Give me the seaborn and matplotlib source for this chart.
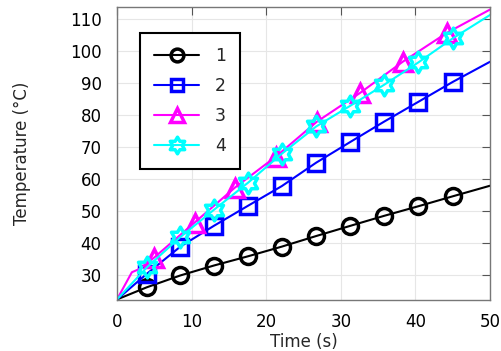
import numpy as np
import matplotlib
matplotlib.use("Agg")
import matplotlib.pyplot as plt
import seaborn as sns
from matplotlib.path import Path

# line vertices (s, degC)
t1 = [0, 4.0, 8.5, 13.0, 17.6, 22.1, 26.7, 31.3, 35.8, 40.4, 45.0, 50]
T1 = [22.5, 26.3, 30.0, 33.1, 36.0, 39.0, 42.3, 45.5, 48.6, 51.6, 54.7, 58.0]

t2 = [0, 4.0, 8.5, 13.0, 17.6, 22.1, 26.7, 31.3, 35.8, 40.4, 45.0, 50]
T2 = [22.5, 30.5, 39.0, 45.5, 51.8, 57.9, 65.2, 71.7, 78.0, 84.2, 90.4, 96.7]

t3 = [0, 2.0, 3.0, 5.0, 10.4, 15.8, 21.3, 26.8, 32.6, 38.3, 44.2, 50]
T3 = [22.5, 31.0, 32.0, 35.6, 46.5, 57.4, 67.1, 78.0, 87.0, 96.7, 105.7, 113.0]

t4 = [0, 4.0, 8.5, 13.0, 17.6, 22.1, 26.7, 31.3, 35.8, 40.4, 45.0, 50]
T4 = [22.5, 32.5, 42.0, 50.5, 59.0, 68.0, 76.5, 83.0, 89.5, 96.5, 104.0, 111.3]

labels = ["1", "2", "3", "4"]
colors = ["black", "#0000ff", "#ff00ff", "#00ffff"]

hexagram = Path.unit_regular_star(6, 0.577)
markers = ["o", "s", "^", hexagram]
marker_sizes = [11.5, 11, 12.5, 15]
mark_idx = [list(range(1, 11)), list(range(1, 11)), list(range(3, 11)), list(range(1, 11))]

sns.set_style("whitegrid")
plt.rcParams["font.family"] = ["DejaVu Sans"]

fig = plt.figure(figsize=(5.02, 3.51), dpi=100)
ax = fig.add_axes([0.233, 0.145, 0.743, 0.835])

series = [(t1, T1), (t2, T2), (t3, T3), (t4, T4)]
for i, (t, T) in enumerate(series):
    sns.lineplot(x=t, y=T, ax=ax, color=colors[i], lw=1.5, label=labels[i],
                 marker=markers[i], markevery=mark_idx[i], markersize=marker_sizes[i],
                 markerfacecolor="none", markeredgecolor=colors[i], markeredgewidth=2.5)

ax.set_xlim(0, 50)
ax.set_ylim(22.3, 113.8)
ax.set_xticks([0, 10, 20, 30, 40, 50])
ax.set_yticks([30, 40, 50, 60, 70, 80, 90, 100, 110])
ax.grid(True, color="#e6e6e6", lw=0.8)
ax.tick_params(direction="in", length=6, width=0.8, colors="#555555",
               labelcolor="black", labelsize=12, top=True, right=True)
ax.tick_params(axis="y", pad=11)
ax.tick_params(axis="x", pad=9)
for s in ax.spines.values():
    s.set_color("#777777")
    s.set_linewidth(1.0)

ax.set_xlabel("Time (s)", fontsize=12, labelpad=2)
ax.set_ylabel("Temperature (°C)", fontsize=12, labelpad=28)

leg = ax.legend(loc="upper left", bbox_to_anchor=(0.062, 0.911), borderaxespad=0,
                fontsize=12.5, frameon=True, fancybox=False, handlelength=2.6,
                borderpad=0.8, labelspacing=0.7, handletextpad=0.9, markerscale=0.8)
leg.get_frame().set_edgecolor("black")
leg.get_frame().set_linewidth(1.5)
leg.get_frame().set_alpha(1)

fig.savefig("out.png", dpi=100)
